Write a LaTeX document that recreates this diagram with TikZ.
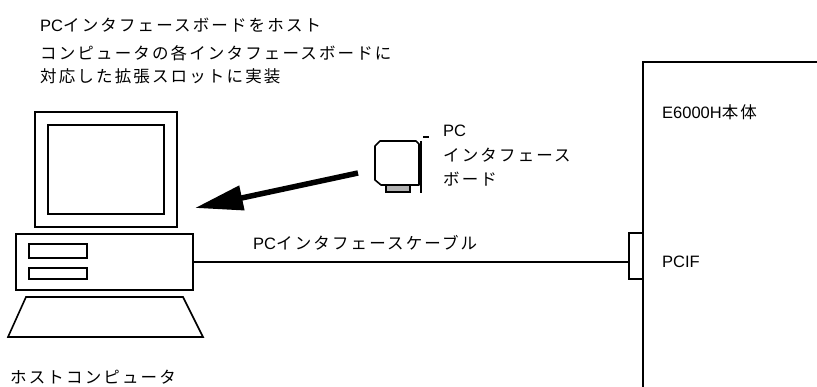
\documentclass[tikz,border=0pt]{standalone}
\usepackage{fontspec}
\setmainfont{Liberation Sans}
\newfontfamily\jpfont[LetterSpace=13]{Noto Sans CJK JP}
\usetikzlibrary{arrows.meta}
\newcommand\J[1]{{\jpfont\fontsize{16.5}{23}\selectfont #1}}
\begin{document}
\begin{tikzpicture}[x=1pt,y=-1pt,
  outl/.style={draw=black,line width=1.6pt},
  thin/.style={draw=black,line width=1.3pt},
  txt/.style={inner sep=0pt,anchor=west,font=\fontsize{16.5}{23}\selectfont},
  boxnode/.style={outl,inner sep=0pt,minimum width=#1},
]
\useasboundingbox (0,0) rectangle (817,387);
% monitor
\draw[outl] (35,112) rectangle (177,227);
\draw[outl] (48,125) rectangle (164,214);
\node[boxnode=177pt,minimum height=56pt] (base) at (104.5,262) {};
\draw[outl] (29,244) rectangle (87,258);
\draw[outl] (29,268) rectangle (87,279);
\draw[outl] (26,297) -- (183,297) -- (203,337) -- (8,337) -- cycle;
% E6000H
\draw[outl] (817,62) -- (643,62) -- (643,387);
\node[boxnode=14pt,minimum height=46pt,fill=white] (pcif) at (636,256) {};
\draw[thin] (base.east) -- (base.east -| pcif.west);
% board
\draw[outl,line join=round] (380,141) -- (416,141) -- (419,144) -- (419,185) -- (381,185) -- (375,180) -- (375,146) -- cycle;
\draw[thin,fill=black!30] (386,185) rectangle (410,192);
\draw[thin] (421,141) -- (421,193);
\draw[thin] (423,137) -- (429,137);
\coordinate (boardtail) at (358,173);
\coordinate (arrowtip) at (195,208);
\draw[line width=5.5pt,-{Triangle[length=48pt,width=24pt]}] (boardtail) -- (arrowtip);
% texts
\node[txt] (t1) at (40,25) {PC\J{インタフェースボードをホスト}};
\node[txt,anchor=north west,align=left] (t2) at (40,45) {\J{コンピュータの各インタフェースボードに}\\\J{対応した拡張スロットに実装}};
\node[txt] (host) at (10,377) {\J{ホストコンピュータ}};
\node[txt,align=left,font=\fontsize{16.5}{24.5}\selectfont] (boardlbl) at (443,156) {PC\\\J{インタフェース}\\\J{ボード}};
\node[txt] (cablelbl) at (253,243) {PC\J{インタフェースケーブル}};
\node[txt] (e6) at (662,112) {E6000H\J{本体}};
\node[txt] (pciflbl) at (662,262) {PCIF};
\end{tikzpicture}
\end{document}
